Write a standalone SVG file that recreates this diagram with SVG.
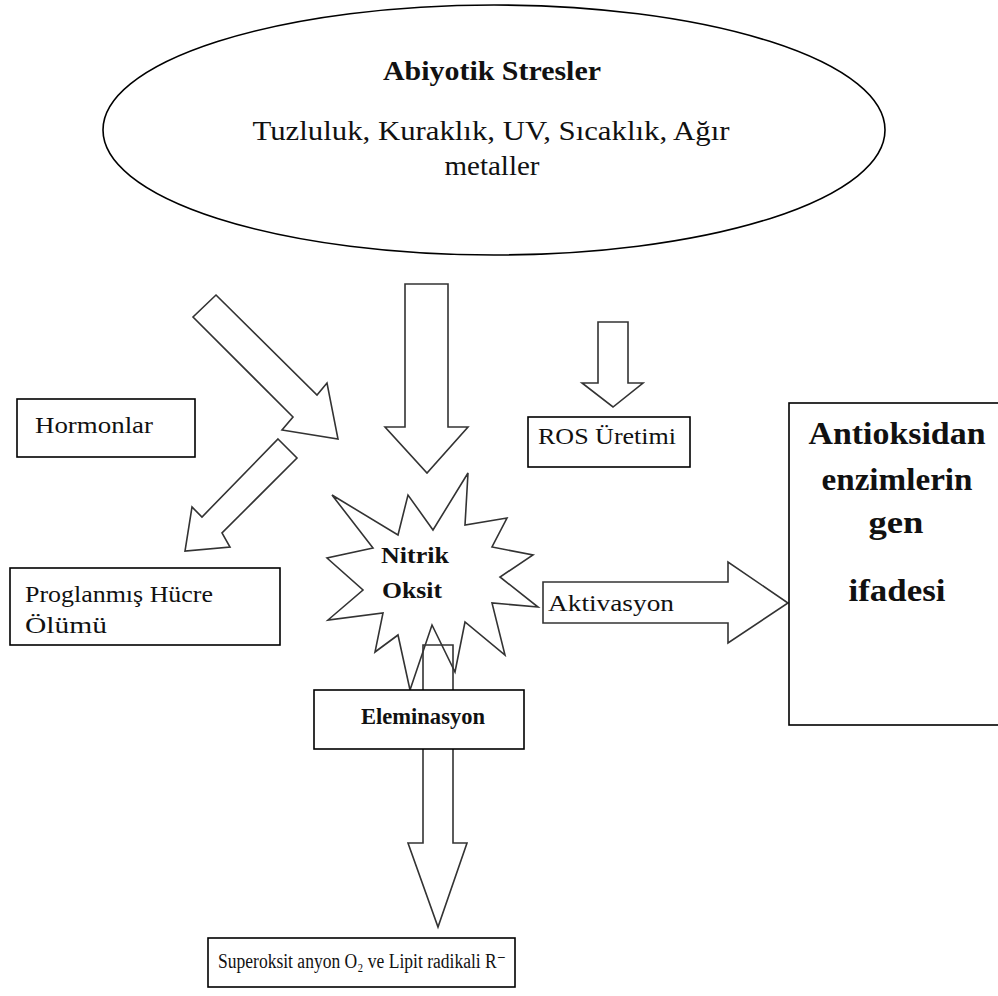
<svg xmlns="http://www.w3.org/2000/svg" width="998" height="996" viewBox="0 0 998 996">
<style>
.bx{fill:#fff;stroke:#000;stroke-width:1.6}
.ar{fill:#fff;stroke:#333;stroke-width:1.6;stroke-linejoin:miter}
.arn{fill:none;stroke:#333;stroke-width:1.6}
.t{font-family:"Liberation Serif","Times New Roman","DejaVu Serif",serif;fill:#111}
.b{font-weight:bold}
</style>
<rect width="998" height="996" fill="#fff"/>
<g id="abiyotik">
<ellipse cx="494" cy="130" rx="391" ry="125" class="bx"/>
<text class="t b" x="492" y="80" font-size="27" text-anchor="middle" textLength="218" lengthAdjust="spacingAndGlyphs">Abiyotik Stresler</text>
<text class="t" x="491" y="140" font-size="27" text-anchor="middle" textLength="477" lengthAdjust="spacingAndGlyphs">Tuzluluk, Kuraklık, UV, Sıcaklık, Ağır</text>
<text class="t" x="492" y="175" font-size="27" text-anchor="middle" textLength="95" lengthAdjust="spacingAndGlyphs">metaller</text>
</g>
<g id="connectors">
<polygon class="ar" points="216,295 317,395 327,383 338,439 282,430 293,417 193,317"/>
<polygon class="ar" points="278,439 297,458 222,533 230,547 185,551 192,507 202,517"/>
<polygon class="ar" points="405,284 448,284 448,427 468,427 427,473 385,427 405,427"/>
<polygon class="ar" points="598,322 628,322 628,383 643,383 613,407 582,383 598,383"/>
</g>
<g id="hormonlar">
<rect x="17" y="399" width="178" height="58" class="bx"/>
<text class="t" x="35" y="433" font-size="24" textLength="118" lengthAdjust="spacingAndGlyphs">Hormonlar</text>
</g>
<g id="ros">
<rect x="528" y="417" width="162" height="50" class="bx"/>
<text class="t" x="538" y="444" font-size="24" textLength="138" lengthAdjust="spacingAndGlyphs">ROS Üretimi</text>
</g>
<g id="hucre">
<rect x="10" y="568" width="270" height="77" class="bx"/>
<text class="t" x="25" y="602" font-size="23" textLength="188" lengthAdjust="spacingAndGlyphs">Proglanmış Hücre</text>
<text class="t" x="25" y="633" font-size="23" textLength="82" lengthAdjust="spacingAndGlyphs">Ölümü</text>
</g>
<g id="nitrik">
<polygon class="ar" points="468,473 465,525 507,518 492,547 533,555 500,577 538,607 492,603 505,655 465,622 455,672 432,625 410,690 398,635 375,652 383,613 328,620 363,590 327,558 373,548 332,495 398,535 408,495 433,530"/>
<text class="t b" x="381" y="563" font-size="23" textLength="68" lengthAdjust="spacingAndGlyphs">Nitrik</text>
<text class="t b" x="382" y="598" font-size="23" textLength="60" lengthAdjust="spacingAndGlyphs">Oksit</text>
</g>
<g id="connectors2">
<polygon class="arn" points="423,645 453,645 453,843 467,843 438,927 408,843 423,843"/>
<polygon class="ar" points="543,582 728,582 728,562 788,603 728,643 728,623 543,623"/>
<text class="t" x="548" y="611" font-size="23" textLength="126" lengthAdjust="spacingAndGlyphs">Aktivasyon</text>
</g>
<g id="eleminasyon">
<rect x="314" y="690" width="210" height="59" class="bx"/>
<text class="t b" x="423" y="724" font-size="23" text-anchor="middle" textLength="124" lengthAdjust="spacingAndGlyphs">Eleminasyon</text>
</g>
<g id="antioksidan">
<rect x="789" y="403" width="215" height="322" class="bx"/>
<text class="t b" x="897" y="444" font-size="31" text-anchor="middle" textLength="177" lengthAdjust="spacingAndGlyphs">Antioksidan</text>
<text class="t b" x="897" y="490" font-size="31" text-anchor="middle" textLength="151" lengthAdjust="spacingAndGlyphs">enzimlerin</text>
<text class="t b" x="896" y="533" font-size="31" text-anchor="middle" textLength="55" lengthAdjust="spacingAndGlyphs">gen</text>
<text class="t b" x="897" y="601" font-size="31" text-anchor="middle" textLength="97" lengthAdjust="spacingAndGlyphs">ifadesi</text>
</g>
<g id="superoksit">
<rect x="208" y="938" width="307" height="49" class="bx"/>
<text class="t" x="218" y="968" font-size="20" textLength="288" lengthAdjust="spacingAndGlyphs">Superoksit anyon O₂ ve Lipit radikali R⁻</text>
</g>
</svg>
